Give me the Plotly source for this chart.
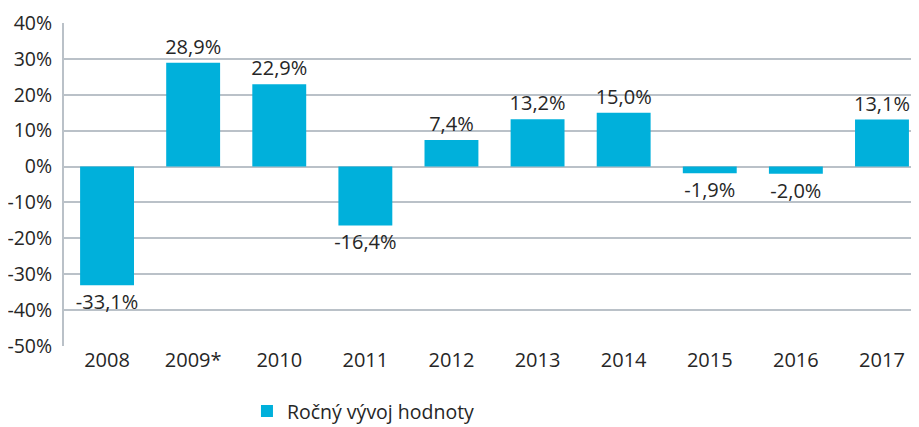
import plotly.graph_objects as go

categories = ["2008", "2009*", "2010", "2011", "2012", "2013", "2014", "2015", "2016", "2017"]
values = [-33.1, 28.9, 22.9, -16.4, 7.4, 13.2, 15.0, -1.9, -2.0, 13.1]
series_name = "Ročný vývoj hodnoty"
tick_vals = [-50, -40, -30, -20, -10, 0, 10, 20, 30, 40]
tick_text = [f"{v}%" for v in tick_vals]

labels = [f"{v:.1f}".replace(".", ",") + "%" for v in values]

font_family = "Open Sans, Noto Sans, sans-serif"
text_color = "#262626"
grid_color = "#BAC1C8"
bar_color = "#00B0DB"
fsize = 20

# page body has an 8px default margin, so the figure is drawn 8px in from top-left
fig = go.Figure()
fig.add_trace(go.Bar(
    x=categories, y=values, name=series_name,
    marker=dict(color=bar_color, line=dict(width=0)),
    text=labels, textposition="outside", cliponaxis=False, constraintext="none",
    textfont=dict(size=fsize, color=text_color, family=font_family),
    showlegend=True,
))

fig.update_layout(
    width=911, height=419,
    margin=dict(l=56, r=0, t=15, b=81, autoexpand=False),
    plot_bgcolor="white", paper_bgcolor="white",
    font=dict(family=font_family, size=fsize, color=text_color),
    bargap=0.374,
    uniformtext=dict(mode=False),
    showlegend=True,
    legend=dict(orientation="h", x=0.214, xanchor="left", y=-0.202, yanchor="middle",
                font=dict(size=19.5, color=text_color), bgcolor="rgba(0,0,0,0)"),
    xaxis=dict(type="category", categoryorder="array", categoryarray=categories,
               range=[-0.5, 9.43], showgrid=False, zeroline=False, automargin=False,
               showline=False, ticks="", tickfont=dict(size=fsize, color=text_color)),
    yaxis=dict(range=[-50, 40], tickvals=tick_vals, ticktext=tick_text, automargin=False,
               showgrid=True, gridcolor=grid_color, gridwidth=2,
               zeroline=True, zerolinecolor=grid_color, zerolinewidth=2,
               showline=True, linecolor=grid_color, linewidth=2,
               ticks="", ticklabelstandoff=6,
               tickfont=dict(size=19.5, color=text_color)),
)

fig.write_html("out.html")
